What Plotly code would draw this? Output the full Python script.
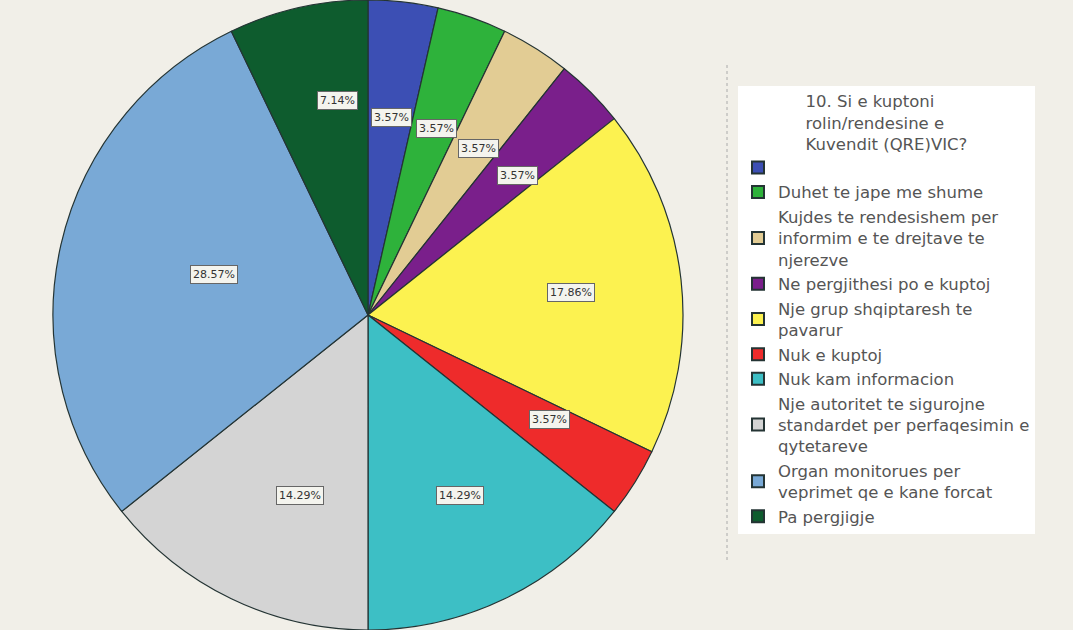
import math
import plotly.graph_objects as go

# answers to question 10, counts (28 respondents)
answers = [
    " ",
    "Duhet te jape me shume",
    "Kujdes te rendesishem per<br>informim e te drejtave te<br>njerezve",
    "Ne pergjithesi po e kuptoj",
    "Nje grup shqiptaresh te<br>pavarur",
    "Nuk e kuptoj",
    "Nuk kam informacion",
    "Nje autoritet te sigurojne<br>standardet per perfaqesimin e<br>qytetareve",
    "Organ monitorues per<br>veprimet qe e kane forcat",
    "Pa pergjigje",
]
counts = [1, 1, 1, 1, 5, 1, 4, 4, 8, 2]
colors = ["#3c4fb4", "#2eb23b", "#e2cc94", "#7a1f8b", "#fcf250",
          "#ee2b2b", "#3dbfc5", "#d4d4d4", "#79a9d6", "#0e5c2e"]
title = "10. Si e kuptoni<br>rolin/rendesine e<br>Kuvendit (QRE)VIC?"

W, H = 1073, 630
cx, cy, R = 368, 315, 315
label_r = [0.66, 0.66, 0.66, 0.67, 0.65, 0.68, 0.67, 0.67, 0.58, 0.73]

fig = go.Figure()
fig.add_trace(go.Pie(
    labels=answers,
    values=counts,
    marker=dict(colors=colors, line=dict(color="#243434", width=1.2)),
    sort=False,
    direction="clockwise",
    rotation=0,
    textinfo="none",
    hoverinfo="label+percent",
    domain=dict(x=[(cx - R) / W, (cx + R) / W], y=[0, 1]),
))

# boxed percent labels, placed at each slice's mid angle
total = sum(counts)
cum = 0
for v, rf in zip(counts, label_r):
    theta = 2 * math.pi * (cum + v / 2) / total
    cum += v
    px_ = cx + rf * R * math.sin(theta)
    py_ = cy - rf * R * math.cos(theta)
    fig.add_annotation(
        x=px_ / W, y=1 - py_ / H, xref="paper", yref="paper",
        text=f"{v / total * 100:.2f}%", showarrow=False,
        font=dict(size=11, color="#333", family="DejaVu Sans"),
        bgcolor="#f4f4ee", bordercolor="#666", borderwidth=1, borderpad=2,
    )

# dotted separator between pie and legend
fig.add_shape(type="line", xref="paper", yref="paper",
              x0=727 / W, x1=727 / W, y0=1 - 560 / H, y1=1 - 65 / H,
              line=dict(color="#aaa", width=1, dash="dot"))

fig.update_layout(
    width=W, height=H,
    margin=dict(l=0, r=0, t=0, b=0),
    paper_bgcolor="#f1efe8",
    plot_bgcolor="#f1efe8",
    showlegend=True,
    legend=dict(
        x=738 / W, y=1 - 86 / H, xanchor="left", yanchor="top",
        bgcolor="white",
        font=dict(size=16.5, color="#555", family="DejaVu Sans"),
        title=dict(text=title, side="top center",
                   font=dict(size=16.5, color="#555", family="DejaVu Sans")),
        itemsizing="constant",
        tracegroupgap=0,
    ),
)

fig.write_html("out.html",
               config={"displayModeBar": False},
               post_script="document.body.style.margin='0';"
                           "document.body.style.background='#f1efe8';")
